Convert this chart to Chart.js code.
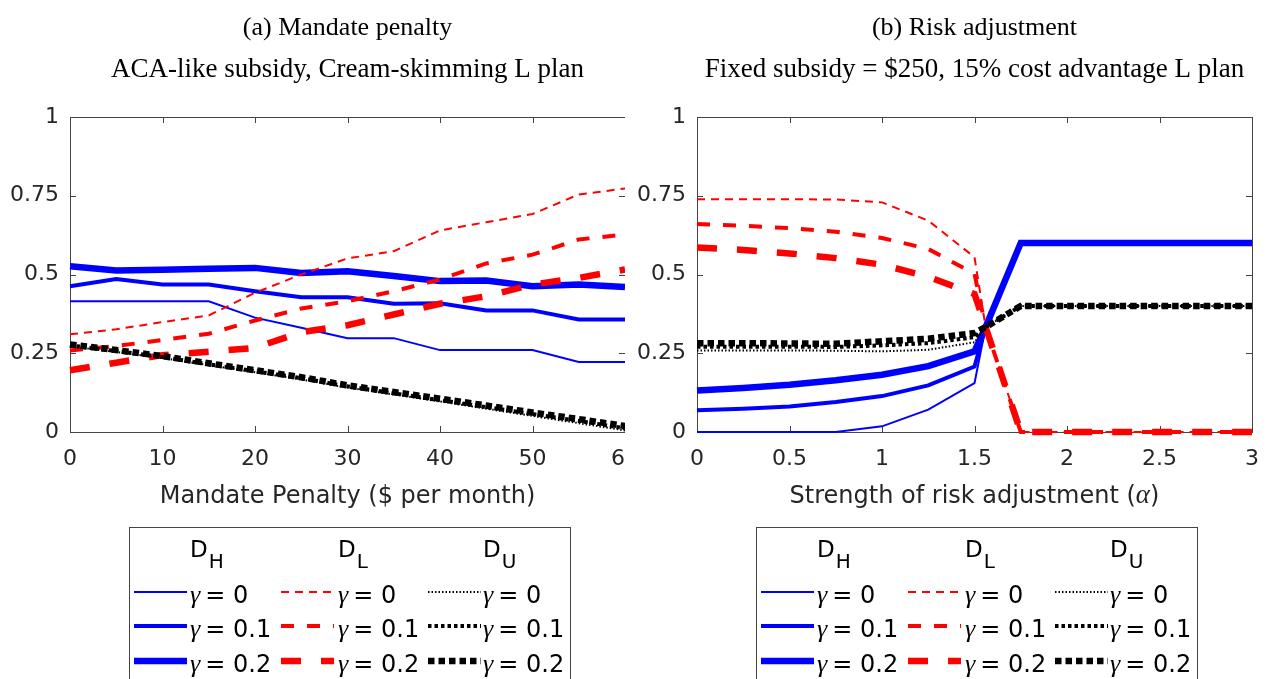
<!DOCTYPE html>
<html>
<head>
<meta charset="utf-8">
<script src="https://cdn.jsdelivr.net/npm/chart.js@4.4.1/dist/chart.umd.min.js"></script>
<style>
  html, body { margin: 0; padding: 0; background: #fff; width: 1270px; height: 679px; overflow: hidden; }
  .panel { position: absolute; top: 0; height: 679px; overflow: hidden; }
  #wrapA { left: 0; width: 625px; }
  #wrapB { left: 627px; width: 643px; }
  canvas { display: block; }
</style>
</head>
<body>
<div class="panel" id="wrapA"><canvas id="penaltyChart" width="695" height="679"></canvas></div>
<div class="panel" id="wrapB"><canvas id="riskChart" width="695" height="679"></canvas></div>
<script>
// ---------- Panel (a): mandate penalty ----------
const penalty = [0, 5, 10, 15, 20, 25, 30, 35, 40, 45, 50, 55, 60];
const penaltyTicks = [0, 10, 20, 30, 40, 50, 60];
const penaltyTickLabels = ['0', '10', '20', '30', '40', '50', '60'];

const penDH0 = [0.415, 0.415, 0.415, 0.415, 0.363, 0.331, 0.298, 0.298, 0.260, 0.260, 0.260, 0.222, 0.222];
const penDH1 = [0.463, 0.486, 0.468, 0.468, 0.447, 0.428, 0.428, 0.407, 0.409, 0.386, 0.386, 0.357, 0.357];
const penDH2 = [0.526, 0.513, 0.515, 0.518, 0.521, 0.505, 0.510, 0.495, 0.479, 0.481, 0.463, 0.468, 0.460];
const penDL0 = [0.310, 0.326, 0.349, 0.370, 0.442, 0.500, 0.551, 0.574, 0.640, 0.666, 0.692, 0.754, 0.773];
const penDL1 = [0.259, 0.273, 0.292, 0.312, 0.354, 0.392, 0.415, 0.447, 0.484, 0.535, 0.563, 0.611, 0.627];
const penDL2 = [0.196, 0.220, 0.244, 0.255, 0.267, 0.317, 0.339, 0.373, 0.407, 0.431, 0.468, 0.489, 0.516];
const penDU0 = [0.272, 0.254, 0.235, 0.212, 0.190, 0.167, 0.141, 0.119, 0.097, 0.074, 0.051, 0.028, 0.005];
const penDU1 = [0.275, 0.257, 0.238, 0.215, 0.193, 0.171, 0.145, 0.123, 0.101, 0.079, 0.057, 0.035, 0.012];
const penDU2 = [0.278, 0.260, 0.241, 0.218, 0.196, 0.174, 0.148, 0.127, 0.106, 0.084, 0.062, 0.041, 0.019];

// ---------- Panel (b): risk adjustment ----------
const alpha = [0, 0.25, 0.5, 0.75, 1, 1.25, 1.5, 1.56, 1.75, 2, 2.25, 2.5, 2.75, 3];
const alphaTicks = [0, 0.5, 1, 1.5, 2, 2.5, 3];
const alphaTickLabels = ['0', '0.5', '1', '1.5', '2', '2.5', '3'];

const riskDH0 = [0, 0, 0, 0, 0.018, 0.071, 0.155, 0.333, 0.6, 0.6, 0.6, 0.6, 0.6, 0.6];
const riskDH1 = [0.069, 0.074, 0.081, 0.095, 0.114, 0.148, 0.208, 0.333, 0.6, 0.6, 0.6, 0.6, 0.6, 0.6];
const riskDH2 = [0.132, 0.140, 0.150, 0.164, 0.182, 0.209, 0.256, 0.333, 0.6, 0.6, 0.6, 0.6, 0.6, 0.6];
const riskDL0 = [0.739, 0.739, 0.739, 0.738, 0.729, 0.671, 0.555, 0.333, 0, 0, 0, 0, 0, 0];
const riskDL1 = [0.660, 0.655, 0.647, 0.636, 0.616, 0.581, 0.502, 0.333, 0, 0, 0, 0, 0, 0];
const riskDL2 = [0.586, 0.578, 0.567, 0.552, 0.531, 0.493, 0.438, 0.333, 0, 0, 0, 0, 0, 0];
const riskDU0 = [0.259, 0.259, 0.259, 0.258, 0.256, 0.261, 0.285, 0.333, 0.4, 0.4, 0.4, 0.4, 0.4, 0.4];
const riskDU1 = [0.271, 0.271, 0.271, 0.270, 0.275, 0.282, 0.301, 0.333, 0.4, 0.4, 0.4, 0.4, 0.4, 0.4];
const riskDU2 = [0.282, 0.282, 0.281, 0.280, 0.288, 0.296, 0.314, 0.333, 0.4, 0.4, 0.4, 0.4, 0.4, 0.4];

// ---------- shared ----------
const shareTicks = [0, 0.25, 0.5, 0.75, 1];
const shareTickLabels = ['0', '0.25', '0.5', '0.75', '1'];
const gammaLabels = ['0', '0.1', '0.2'];
const groupKeys = ['H', 'L', 'U'];

const SANS = '"DejaVu Sans", sans-serif';
const SERIF = '"Liberation Serif", serif';
const AXIS_GREY = '#262626';

// line look per group (colour, dash per gamma) and width per gamma
const groupColor = { H: '#0000ff', L: '#ff0000', U: '#000000' };
const groupDash = {
  H: [[], [], []],
  L: [[8, 6], [13, 13], [20, 20]],
  U: [[1.5, 2], [3.5, 3], [6.5, 4]]
};
const groupOrder = { H: 3, L: 2, U: 1 };
const gammaWidth = [2, 4, 6.5];

function series(xs, ys, group, g) {
  return {
    data: xs.map((x, i) => ({ x: x, y: ys[i] })),
    group: group,
    gammaIdx: g,
    borderColor: groupColor[group],
    backgroundColor: groupColor[group],
    borderWidth: gammaWidth[g],
    borderDash: groupDash[group][g],
    borderCapStyle: 'butt',
    borderJoinStyle: 'miter',
    pointRadius: 0,
    tension: 0,
    fill: false,
    order: groupOrder[group],
    clip: 10
  };
}

// frame, inward tick marks, headings, x title and three-column legend
const panelDecor = {
  id: 'panelDecor',
  beforeDatasetsDraw(chart) {
    const { ctx, chartArea: a, scales } = chart;
    ctx.save();
    ctx.strokeStyle = '#444';
    ctx.lineWidth = 1;
    ctx.setLineDash([]);
    ctx.strokeRect(Math.round(a.left) + 0.5, Math.round(a.top) + 0.5,
                   Math.round(a.right - a.left), Math.round(a.bottom - a.top));
    const len = 6;
    ctx.beginPath();
    scales.x.ticks.forEach(t => {
      const px = Math.round(scales.x.getPixelForValue(t.value)) + 0.5;
      ctx.moveTo(px, a.bottom); ctx.lineTo(px, a.bottom - len);
      ctx.moveTo(px, a.top); ctx.lineTo(px, a.top + len);
    });
    scales.y.ticks.forEach(t => {
      const py = Math.round(scales.y.getPixelForValue(t.value)) + 0.5;
      ctx.moveTo(a.left, py); ctx.lineTo(a.left + len, py);
      ctx.moveTo(a.right, py); ctx.lineTo(a.right - len, py);
    });
    ctx.stroke();
    ctx.restore();
  },
  afterDraw(chart, args, opts) {
    const { ctx, chartArea: a } = chart;
    const cx = (a.left + a.right) / 2;
    ctx.save();
    ctx.textBaseline = 'alphabetic';
    ctx.fillStyle = '#000';

    // headings
    ctx.textAlign = 'center';
    ctx.font = '26px ' + SERIF;
    ctx.fillText(opts.heading, cx, 35);
    ctx.font = '27px ' + SERIF;
    ctx.fillText(opts.subheading, cx, 77);

    // x-axis title made of text runs
    ctx.textAlign = 'left';
    ctx.fillStyle = AXIS_GREY;
    let total = 0;
    opts.xTitle.forEach(run => { ctx.font = run.font; total += ctx.measureText(run.text).width; });
    let x = cx - total / 2;
    opts.xTitle.forEach(run => {
      ctx.font = run.font;
      ctx.fillText(run.text, x, 503);
      x += ctx.measureText(run.text).width;
    });

    // legend
    const L = a.left;
    ctx.strokeStyle = '#444';
    ctx.lineWidth = 1;
    ctx.setLineDash([]);
    ctx.strokeRect(Math.round(L + 59) + 0.5, 527.5, 441, 200);
    const colText = [120, 268, 413];
    const colLine = [64, 211, 358];
    const rowBase = [603, 637, 672];
    ctx.fillStyle = '#000';
    groupKeys.forEach((k, c) => {
      ctx.font = '23px ' + SANS;
      const tx = L + colText[c];
      ctx.fillText('D', tx, 557);
      const w = ctx.measureText('D').width;
      ctx.font = '20px ' + SANS;
      ctx.fillText(k, tx + w + 1, 568);
    });
    chart.data.datasets.forEach(ds => {
      const c = groupKeys.indexOf(ds.group);
      const r = ds.gammaIdx;
      const y = rowBase[r] - 11;
      ctx.save();
      ctx.strokeStyle = ds.borderColor;
      ctx.lineWidth = ds.borderWidth;
      ctx.lineCap = 'butt';
      ctx.setLineDash(ds.borderDash);
      ctx.beginPath();
      ctx.moveTo(L + colLine[c], y);
      ctx.lineTo(L + colLine[c] + 53, y);
      ctx.stroke();
      ctx.restore();
      const tx = L + colText[c];
      ctx.font = 'italic 26px ' + SERIF;
      ctx.fillText('\u03b3', tx, rowBase[r]);
      const gw = ctx.measureText('\u03b3').width;
      ctx.font = '24px ' + SANS;
      ctx.fillText('= ' + gammaLabels[r], tx + gw + 5, rowBase[r]);
    });
    ctx.restore();
  }
};

function buildChart(canvasId, xs, xMin, xMax, xTickVals, xTickText, sets, decor) {
  return new Chart(document.getElementById(canvasId), {
    type: 'line',
    data: { datasets: sets },
    options: {
      responsive: false,
      animation: false,
      devicePixelRatio: 1,
      layout: { padding: { top: 117, left: 0, right: 70, bottom: 207 } },
      plugins: {
        legend: { display: false },
        tooltip: { enabled: false },
        title: { display: false },
        panelDecor: decor
      },
      scales: {
        x: {
          type: 'linear',
          min: xMin,
          max: xMax,
          afterBuildTicks: s => { s.ticks = xTickVals.map(v => ({ value: v })); },
          afterFit: s => { s.height = 40; },
          grid: { display: false, drawTicks: false },
          border: { display: false },
          ticks: {
            padding: 14,
            color: AXIS_GREY,
            font: { family: SANS, size: 22 },
            maxRotation: 0,
            autoSkip: false,
            callback: (v, i) => xTickText[i]
          }
        },
        y: {
          type: 'linear',
          min: 0,
          max: 1,
          afterBuildTicks: s => { s.ticks = shareTicks.map(v => ({ value: v })); },
          afterFit: s => { s.width = 70; },
          grid: { display: false, drawTicks: false },
          border: { display: false },
          ticks: {
            padding: 11,
            color: AXIS_GREY,
            font: { family: SANS, size: 22 },
            autoSkip: false,
            callback: (v, i) => shareTickLabels[i]
          }
        }
      }
    },
    plugins: [panelDecor]
  });
}

const penaltySets = [
  series(penalty, penDH0, 'H', 0), series(penalty, penDH1, 'H', 1), series(penalty, penDH2, 'H', 2),
  series(penalty, penDL0, 'L', 0), series(penalty, penDL1, 'L', 1), series(penalty, penDL2, 'L', 2),
  series(penalty, penDU0, 'U', 0), series(penalty, penDU1, 'U', 1), series(penalty, penDU2, 'U', 2)
];
const riskSets = [
  series(alpha, riskDH0, 'H', 0), series(alpha, riskDH1, 'H', 1), series(alpha, riskDH2, 'H', 2),
  series(alpha, riskDL0, 'L', 0), series(alpha, riskDL1, 'L', 1), series(alpha, riskDL2, 'L', 2),
  series(alpha, riskDU0, 'U', 0), series(alpha, riskDU1, 'U', 1), series(alpha, riskDU2, 'U', 2)
];

buildChart('penaltyChart', penalty, 0, 60, penaltyTicks, penaltyTickLabels, penaltySets, {
  heading: '(a) Mandate penalty',
  subheading: 'ACA-like subsidy, Cream-skimming L plan',
  xTitle: [{ text: 'Mandate Penalty ($ per month)', font: '24px ' + SANS }]
});

buildChart('riskChart', alpha, 0, 3, alphaTicks, alphaTickLabels, riskSets, {
  heading: '(b) Risk adjustment',
  subheading: 'Fixed subsidy = $250, 15% cost advantage L plan',
  xTitle: [
    { text: 'Strength of risk adjustment (', font: '24px ' + SANS },
    { text: '\u03b1', font: 'italic 27px ' + SERIF },
    { text: ')', font: '24px ' + SANS }
  ]
});
</script>
</body>
</html>
